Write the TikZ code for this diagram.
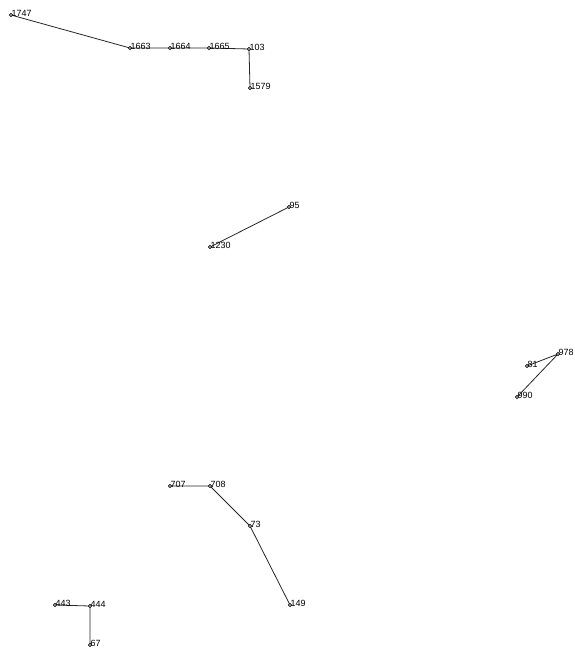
\documentclass[tikz,border=0pt]{standalone}
\usepackage{fontspec}
\setmainfont{Liberation Sans}
\begin{document}
\begin{tikzpicture}[x=1bp,y=-1bp,
  pt/.style={circle,draw=black,fill=white,inner sep=0pt,minimum size=3.2bp,line width=0.6bp},
  lab/.style={anchor=south west,inner sep=0pt,font=\fontsize{9}{10}\selectfont,xshift=0.5bp,yshift=-1.5bp},
  edge/.style={draw=black!85,line width=0.8bp}]
\useasboundingbox (0,0) rectangle (575,653);
\coordinate (n1747) at (11,15);
\coordinate (n1663) at (130,48);
\coordinate (n1664) at (170,48);
\coordinate (n1665) at (209,48);
\coordinate (n103) at (249,49);
\coordinate (n1579) at (250,88);
\coordinate (n95) at (289,207);
\coordinate (n1230) at (210,247);
\coordinate (n978) at (558,354);
\coordinate (n81) at (527,366);
\coordinate (n990) at (517,397);
\coordinate (n707) at (170,486);
\coordinate (n708) at (210,486);
\coordinate (n73) at (250,526);
\coordinate (n149) at (290,605);
\coordinate (n443) at (55,605);
\coordinate (n444) at (90,606);
\coordinate (n67) at (90,645);
\draw[edge] (n1747) -- (n1663) -- (n1664) -- (n1665) -- (n103) -- (n1579);
\draw[edge] (n95) -- (n1230);
\draw[edge] (n81) -- (n978) -- (n990);
\draw[edge] (n707) -- (n708) -- (n73) -- (n149);
\draw[edge] (n443) -- (n444) -- (n67);
\foreach \n in {1747,1663,1664,1665,103,1579,95,1230,978,81,990,707,708,73,149,443,444,67}{
  \node[pt] (p\n) at (n\n) {};
  \node[lab] (l\n) at (n\n) {\n};
}
\end{tikzpicture}
\end{document}
